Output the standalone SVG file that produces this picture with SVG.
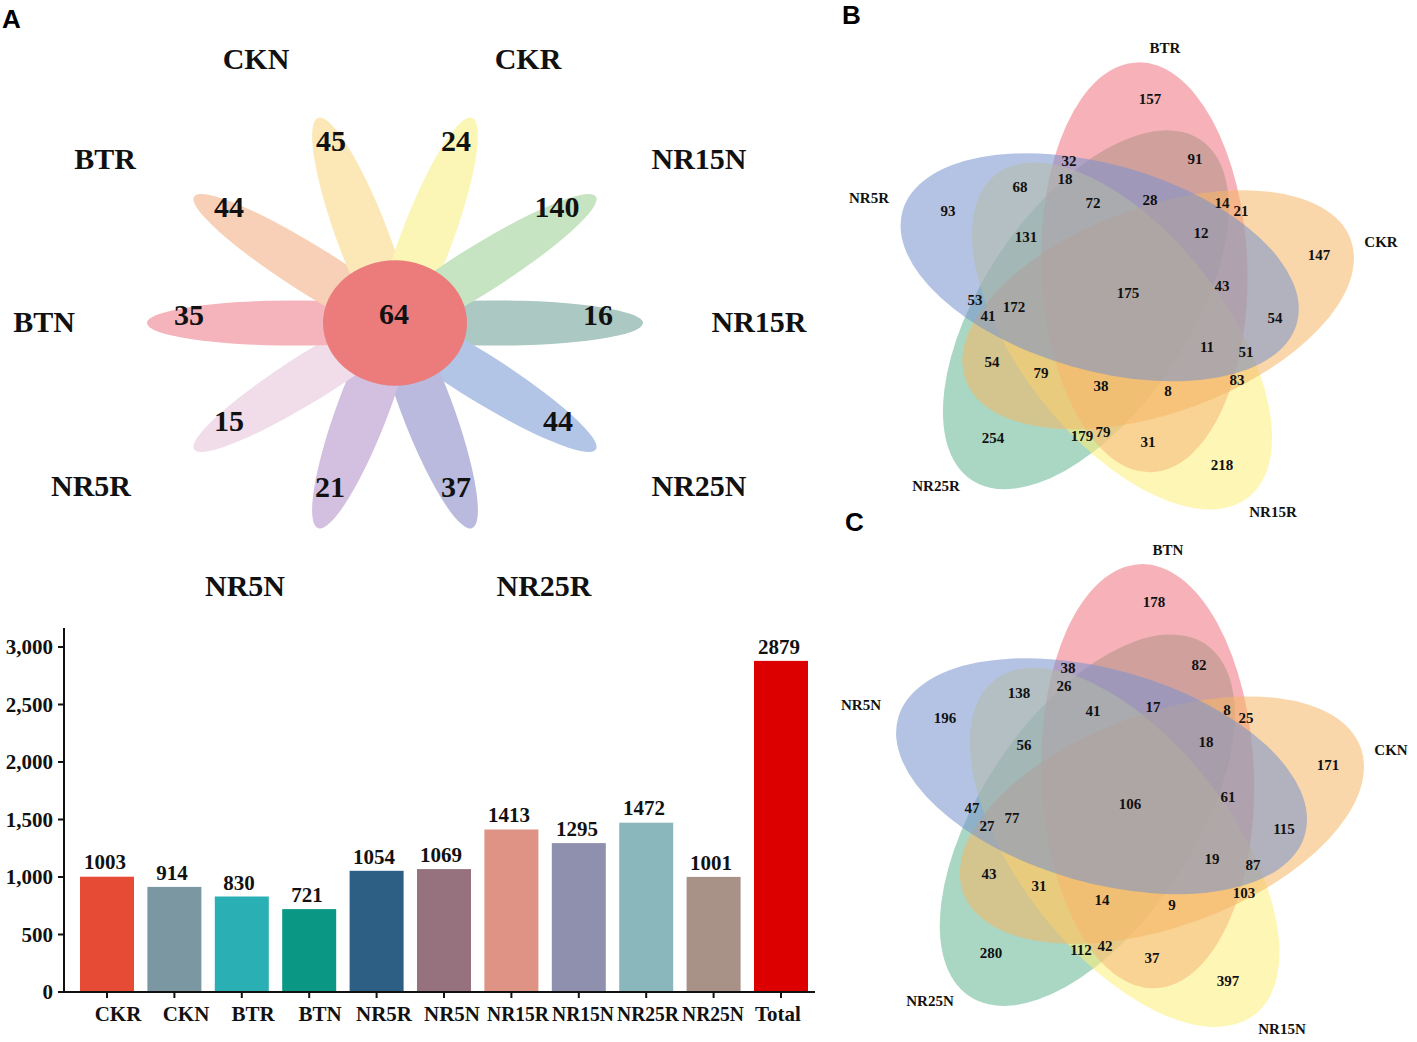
<svg xmlns="http://www.w3.org/2000/svg" width="1417" height="1042" viewBox="0 0 1417 1042">
<style>
.pl{font-family:"Liberation Sans",Arial,sans-serif;font-weight:bold;font-size:26px;fill:#000}
.fl{font-family:"Liberation Serif","Times New Roman",serif;font-weight:bold;font-size:30px;fill:#111;text-anchor:middle}
.bv{font-family:"Liberation Serif","Times New Roman",serif;font-weight:bold;font-size:21px;fill:#111;text-anchor:middle}
.ax{font-family:"Liberation Serif","Times New Roman",serif;font-weight:bold;font-size:21px;fill:#111}
.vn{font-family:"Liberation Serif","Times New Roman",serif;font-weight:bold;font-size:15px;fill:#111;text-anchor:middle}
.vl{font-family:"Liberation Serif","Times New Roman",serif;font-weight:bold;font-size:15px;fill:#111;text-anchor:middle}
.axis{stroke:#111;stroke-width:2;fill:none}
.e{fill-opacity:0.55}
</style>
<rect width="1417" height="1042" fill="#fff"/>

<!-- Panel A flower -->
<g id="flower">
  <g transform="translate(395,323) scale(1,0.87)">
    <ellipse cx="100" cy="0" rx="148" ry="26" fill="#abc8c2" transform="rotate(0)"/>
    <ellipse cx="100" cy="0" rx="148" ry="26" fill="#b3c5e6" transform="rotate(36)"/>
    <ellipse cx="100" cy="0" rx="148" ry="26" fill="#b9badd" transform="rotate(72)"/>
    <ellipse cx="100" cy="0" rx="148" ry="26" fill="#d3bfe0" transform="rotate(108)"/>
    <ellipse cx="100" cy="0" rx="148" ry="26" fill="#f1dcea" transform="rotate(144)"/>
    <ellipse cx="100" cy="0" rx="148" ry="26" fill="#f5b4bb" transform="rotate(180)"/>
    <ellipse cx="100" cy="0" rx="148" ry="26" fill="#f8d0b8" transform="rotate(216)"/>
    <ellipse cx="100" cy="0" rx="148" ry="26" fill="#fbe8b6" transform="rotate(252)"/>
    <ellipse cx="100" cy="0" rx="148" ry="26" fill="#fbf6b6" transform="rotate(288)"/>
    <ellipse cx="100" cy="0" rx="148" ry="26" fill="#c6e4c1" transform="rotate(324)"/>
    <circle cx="0" cy="0" r="72" fill="#ec7b7b"/>
  </g>
  <text class="fl" x="394" y="324">64</text>
  <text class="fl" x="598" y="325">16</text>
  <text class="fl" x="558" y="431">44</text>
  <text class="fl" x="456" y="497">37</text>
  <text class="fl" x="330" y="497">21</text>
  <text class="fl" x="229" y="431">15</text>
  <text class="fl" x="189" y="325">35</text>
  <text class="fl" x="229" y="217">44</text>
  <text class="fl" x="331" y="151">45</text>
  <text class="fl" x="456" y="151">24</text>
  <text class="fl" x="557" y="217">140</text>
  <text class="fl" x="256" y="69">CKN</text>
  <text class="fl" x="528" y="69">CKR</text>
  <text class="fl" x="105" y="169">BTR</text>
  <text class="fl" x="699" y="169">NR15N</text>
  <text class="fl" x="44" y="332">BTN</text>
  <text class="fl" x="759" y="332">NR15R</text>
  <text class="fl" x="91" y="496">NR5R</text>
  <text class="fl" x="699" y="496">NR25N</text>
  <text class="fl" x="245" y="596">NR5N</text>
  <text class="fl" x="544" y="596">NR25R</text>
</g>

<!-- Bar chart -->
<g id="barchart">
  <rect x="80" y="876.7" width="54" height="115.3" fill="#e64b35"/>
  <rect x="147.4" y="886.9" width="54" height="105.1" fill="#7b97a2"/>
  <rect x="214.8" y="896.5" width="54" height="95.5" fill="#2ab0b4"/>
  <rect x="282.2" y="909.1" width="54" height="82.9" fill="#0a9784"/>
  <rect x="349.6" y="870.8" width="54" height="121.2" fill="#2d5f85"/>
  <rect x="417" y="869.1" width="54" height="122.9" fill="#96727e"/>
  <rect x="484.4" y="829.5" width="54" height="162.5" fill="#de9384"/>
  <rect x="551.8" y="843.1" width="54" height="148.9" fill="#8f8fae"/>
  <rect x="619.2" y="822.7" width="54" height="169.3" fill="#8ab7bc"/>
  <rect x="686.6" y="876.9" width="54" height="115.1" fill="#a89187"/>
  <rect x="754" y="660.9" width="54" height="331.1" fill="#dc0000"/>
  <path class="axis" d="M64,628 V993 M63,992 H815"/>
  <path class="axis" d="M58,992 H64 M58,934.5 H64 M58,877 H64 M58,819.5 H64 M58,762 H64 M58,704.5 H64 M58,647 H64"/>
  <path class="axis" d="M107,992 v6 M174.4,992 v6 M241.8,992 v6 M309.2,992 v6 M376.6,992 v6 M444,992 v6 M511.4,992 v6 M578.8,992 v6 M646.2,992 v6 M713.6,992 v6 M781,992 v6"/>
  <g class="ax" text-anchor="end">
    <text x="53" y="999">0</text>
    <text x="53" y="941.5">500</text>
    <text x="53" y="884">1,000</text>
    <text x="53" y="826.5">1,500</text>
    <text x="53" y="769">2,000</text>
    <text x="53" y="711.5">2,500</text>
    <text x="53" y="654">3,000</text>
  </g>
  <text class="bv" x="105" y="869">1003</text>
  <text class="bv" x="172" y="880">914</text>
  <text class="bv" x="239" y="890">830</text>
  <text class="bv" x="307" y="902">721</text>
  <text class="bv" x="374" y="864">1054</text>
  <text class="bv" x="441" y="862">1069</text>
  <text class="bv" x="509" y="822">1413</text>
  <text class="bv" x="577" y="836">1295</text>
  <text class="bv" x="644" y="815">1472</text>
  <text class="bv" x="711" y="870">1001</text>
  <text class="bv" x="779" y="654">2879</text>
  <g class="bv">
    <text x="118" y="1021">CKR</text>
    <text x="186" y="1021">CKN</text>
    <text x="253" y="1021">BTR</text>
    <text x="320" y="1021">BTN</text>
    <text x="384" y="1021">NR5R</text>
    <text x="452" y="1021">NR5N</text>
    <text x="518" y="1021" textLength="62" lengthAdjust="spacingAndGlyphs">NR15R</text>
    <text x="583" y="1021" textLength="62" lengthAdjust="spacingAndGlyphs">NR15N</text>
    <text x="648" y="1021" textLength="62" lengthAdjust="spacingAndGlyphs">NR25R</text>
    <text x="713" y="1021" textLength="62" lengthAdjust="spacingAndGlyphs">NR25N</text>
    <text x="778" y="1021">Total</text>
  </g>
</g>

<defs>
  <g id="v5">
    <ellipse class="e" rx="205" ry="103" fill="#64b692" transform="rotate(162) translate(38,0) rotate(-38)"/>
    <ellipse class="e" rx="205" ry="103" fill="#ef737e" transform="rotate(-54) translate(38,0) rotate(-38)"/>
    <ellipse class="e" rx="205" ry="103" fill="#fbef77" transform="rotate(90) translate(38,0) rotate(-38)"/>
    <ellipse class="e" rx="205" ry="103" fill="#f6b664" transform="rotate(18) translate(38,0) rotate(-38)"/>
    <ellipse class="e" rx="205" ry="103" fill="#7792ce" transform="rotate(234) translate(38,0) rotate(-38)"/>
  </g>
</defs>

<!-- Venn B -->
<g id="vennB">
  <use href="#v5" transform="translate(1122,298)"/>
  <text class="vl" x="1165" y="53">BTR</text>
  <text class="vl" x="869" y="203">NR5R</text>
  <text class="vl" x="1381" y="247">CKR</text>
  <text class="vl" x="936" y="491">NR25R</text>
  <text class="vl" x="1273" y="517">NR15R</text>
  <g class="vn">
    <text x="1150" y="104">157</text>
    <text x="1195" y="164">91</text>
    <text x="1069" y="166">32</text>
    <text x="1065" y="184">18</text>
    <text x="948" y="216">93</text>
    <text x="1020" y="192">68</text>
    <text x="1093" y="208">72</text>
    <text x="1150" y="205">28</text>
    <text x="1222" y="208">14</text>
    <text x="1241" y="216">21</text>
    <text x="1201" y="238">12</text>
    <text x="1319" y="260">147</text>
    <text x="1026" y="242">131</text>
    <text x="1128" y="298">175</text>
    <text x="1222" y="291">43</text>
    <text x="975" y="305">53</text>
    <text x="988" y="321">41</text>
    <text x="1014" y="312">172</text>
    <text x="1275" y="323">54</text>
    <text x="1207" y="352">11</text>
    <text x="1246" y="357">51</text>
    <text x="992" y="367">54</text>
    <text x="1041" y="378">79</text>
    <text x="1101" y="391">38</text>
    <text x="1168" y="396">8</text>
    <text x="1237" y="385">83</text>
    <text x="993" y="443">254</text>
    <text x="1082" y="441">179</text>
    <text x="1103" y="437">79</text>
    <text x="1148" y="447">31</text>
    <text x="1222" y="470">218</text>
  </g>
</g>

<!-- Venn C -->
<g id="vennC">
  <use href="#v5" transform="translate(1124.6,808) scale(1.032,1.035)"/>
  <text class="vl" x="1168" y="555">BTN</text>
  <text class="vl" x="861" y="710">NR5N</text>
  <text class="vl" x="1391" y="755">CKN</text>
  <text class="vl" x="930" y="1006">NR25N</text>
  <text class="vl" x="1282" y="1034">NR15N</text>
  <g class="vn">
    <text x="1154" y="607">178</text>
    <text x="1199" y="670">82</text>
    <text x="1068" y="673">38</text>
    <text x="1064" y="691">26</text>
    <text x="945" y="723">196</text>
    <text x="1019" y="698">138</text>
    <text x="1093" y="716">41</text>
    <text x="1153" y="712">17</text>
    <text x="1227" y="715">8</text>
    <text x="1246" y="723">25</text>
    <text x="1206" y="747">18</text>
    <text x="1328" y="770">171</text>
    <text x="1024" y="750">56</text>
    <text x="1130" y="809">106</text>
    <text x="1228" y="802">61</text>
    <text x="972" y="813">47</text>
    <text x="987" y="831">27</text>
    <text x="1012" y="823">77</text>
    <text x="1284" y="834">115</text>
    <text x="1212" y="864">19</text>
    <text x="1253" y="870">87</text>
    <text x="989" y="879">43</text>
    <text x="1039" y="891">31</text>
    <text x="1102" y="905">14</text>
    <text x="1172" y="910">9</text>
    <text x="1244" y="898">103</text>
    <text x="991" y="958">280</text>
    <text x="1081" y="955">112</text>
    <text x="1105" y="951">42</text>
    <text x="1152" y="963">37</text>
    <text x="1228" y="986">397</text>
  </g>
</g>

<text class="pl" x="2" y="28">A</text>
<text class="pl" x="842" y="24">B</text>
<text class="pl" x="845" y="531">C</text>
</svg>
